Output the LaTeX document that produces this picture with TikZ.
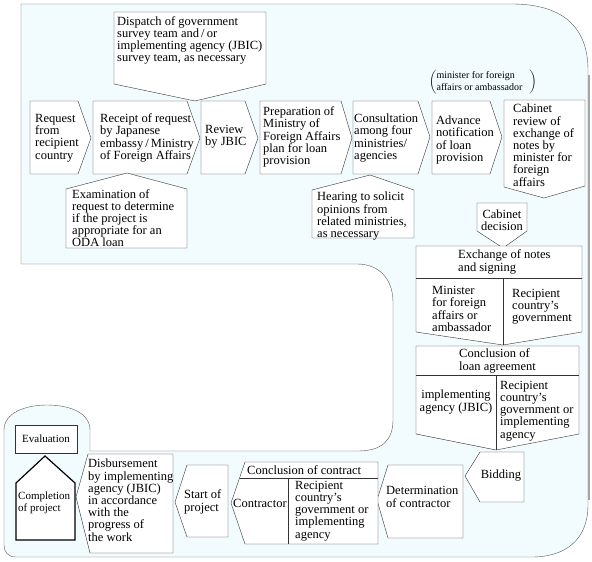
\documentclass[tikz,border=0pt]{standalone}
\usepackage{fontspec}
\setmainfont{Liberation Serif}

\begin{document}
\begin{tikzpicture}[x=1pt,y=-1pt,
        box/.style={draw=black!80,fill=white},
        txt/.style={font=\fontsize{12.5}{12.2}\selectfont,inner sep=0pt,align=left,anchor=west},
        small/.style={font=\fontsize{11}{12}\selectfont}]

  \useasboundingbox (0,0) rectangle (592,562);

  % background region
  \filldraw[draw=black!65,fill={rgb,255:red,242;green,252;blue,255}]
    (21,4) -- (512,4) .. controls (560,4) and (588,25) .. (588,70)
    -- (588,505) .. controls (588,540) and (565,557) .. (532,557)
    -- (16,557) .. controls (8,557) and (4,552) .. (4,545)
    -- (4,430) .. controls (4,413) and (25,405) .. (47,405)
    .. controls (70,405) and (90,413) .. (90,430) -- (90,451)
    -- (358,451) .. controls (382,451) and (393,440) .. (393,420)
    -- (393,302) .. controls (393,280) and (380,264) .. (357,264)
    -- (21,264) -- cycle;
  \draw[black!35,line width=1.5pt] (589,75) -- (589,500);

  % top row
  \draw[box] (30,101) -- (78,101) -- (91,138) -- (78,174) -- (30,174) -- cycle;
  \draw[box] (93,101) -- (187,101) -- (200,138) -- (187,174) -- (93,174) -- cycle;
  \draw[box] (201,101) -- (245,101) -- (258,138) -- (245,174) -- (201,174) -- cycle;
  \draw[box] (260,101) -- (341,101) -- (352,138) -- (341,174) -- (260,174) -- cycle;
  \draw[box] (353,101) -- (418,101) -- (430,137) -- (418,174) -- (353,174) -- cycle;
  \draw[box] (432,101) -- (490,101) -- (502,137) -- (490,174) -- (432,174) -- cycle;
  \draw[box] (504,100) -- (585,100) -- (585,186) -- (544,198) -- (504,187) -- cycle;
  \draw[box] (477,203) -- (527,203) -- (527,231) -- (503,248) -- (477,231) -- cycle;

  % callouts
  \draw[box] (114,12) -- (266,12) -- (266,84) -- (195,101) -- (114,84) -- cycle;
  \draw[box] (66,189) -- (127,173) -- (187,189) -- (187,248) -- (66,248) -- cycle;
  \draw[box] (312,190) -- (370,175) -- (414,190) -- (414,238) -- (312,238) -- cycle;

  % right column
  \draw[box] (416,246) -- (582,246) -- (582,332) -- (503,345) -- (416,332) -- cycle;
  \draw[black!80] (416,278) -- (582,278) (503,278) -- (503,345);
  \draw[box] (416,346) -- (579,346) -- (579,434) -- (496,450) -- (416,434) -- cycle;
  \draw[black!80] (416,375) -- (579,375) (496,375) -- (496,450);

  % bottom row
  \draw[box] (480,452) -- (524,452) -- (524,502) -- (480,502) -- (465,476) -- cycle;
  \draw[box] (388,465) -- (463,465) -- (463,538) -- (388,538) -- (377,500) -- cycle;
  \draw[box] (245,462) -- (378,462) -- (378,544) -- (245,544) -- (231,503) -- cycle;
  \draw[black!80] (239.5,478) -- (378,478) (288,478) -- (288,544);
  \draw[box] (187,465) -- (228,465) -- (228,537) -- (187,537) -- (175,502) -- cycle;
  \draw[box] (88,454) -- (173,454) -- (173,553) -- (90,553) -- (76,497) -- cycle;
  \draw[box,draw=black,line width=1.2pt] (16,483) -- (45,456) -- (75,483) -- (75,540) -- (16,540) -- cycle;
  \draw[box] (15,425) rectangle (77,453);

  % texts
  \node[txt] (request) at (35,138) {Request\\from\\recipient\\country};
  \node[txt] (receipt) at (100,138) {Receipt of request\\by Japanese\\embassy\,/\,Ministry\\of Foreign Affairs};
  \node[txt] (review) at (205,137) {Review\\by JBIC};
  \node[txt] (prep) at (263,137) {Preparation of\\Ministry of\\Foreign Affairs\\plan for loan\\provision};
  \node[txt] (consult) at (354,138) {Consultation\\among four\\ministries/\\agencies};
  \node[txt] (advance) at (436,140) {Advance\\notification\\of loan\\provision};
  \node[txt,anchor=north west] (cabreview) at (513,104) {Cabinet\\review of\\exchange of\\notes by\\minister for\\foreign\\affairs};
  \node[txt,anchor=center,align=center] (cabdec) at (502,220) {Cabinet\\decision};
  \node[inner sep=0pt,anchor=west] (note) at (429,82)
    {$\left(\begin{tabular}{@{}l@{\hspace{7pt}}}\fontsize{10}{12.5}\selectfont minister for foreign\\ \fontsize{10}{12.5}\selectfont affairs or ambassador\end{tabular}\right)$};

  \node[txt,anchor=north west] (dispatch) at (117,16) {Dispatch of government\\survey team and\,/\,or\\implementing agency (JBIC)\\survey team, as necessary};
  \node[txt,anchor=north west] (exam) at (72,189) {Examination of\\request to determine\\if the project is\\appropriate for an\\ODA loan};
  \node[txt,anchor=north west] (hearing) at (317,192) {Hearing to solicit\\opinions from\\related ministries,\\as necessary};

  \node[txt] (exchange) at (458,262) {Exchange of notes\\and signing};
  \node[txt] (minister) at (432,309) {Minister\\for foreign\\affairs or\\ambassador};
  \node[txt] (recgov) at (512,307) {Recipient\\country's\\government};
  \node[txt] (loan) at (459,361) {Conclusion of\\loan agreement};
  \node[txt,anchor=center,align=center] (jbic) at (456,402) {implementing\\agency (JBIC)};
  \node[txt] (recagency) at (500,411) {Recipient\\country's\\government or\\implementing\\agency};

  \node[txt,anchor=center] (bidding) at (501,476) {Bidding};
  \node[txt] (determ) at (386,497) {Determination\\of contractor};
  \node[txt] (contract) at (247,470) {Conclusion of contract};
  \node[txt] (contractor) at (233,503) {Contractor};
  \node[txt] (recimpl) at (295,511) {Recipient\\country's\\government or\\implementing\\agency};
  \node[txt] (start) at (184,502) {Start of\\project};
  \node[txt,anchor=north west] (disburse) at (88,459) {Disbursement\\by implementing\\agency (JBIC)\\in accordance\\with the\\progress of\\the work};
  \node[txt,small] (completion) at (18,503) {Completion\\of project};
  \node[txt,small,anchor=center] (evaluation) at (46,439) {Evaluation};

\end{tikzpicture}
\end{document}
